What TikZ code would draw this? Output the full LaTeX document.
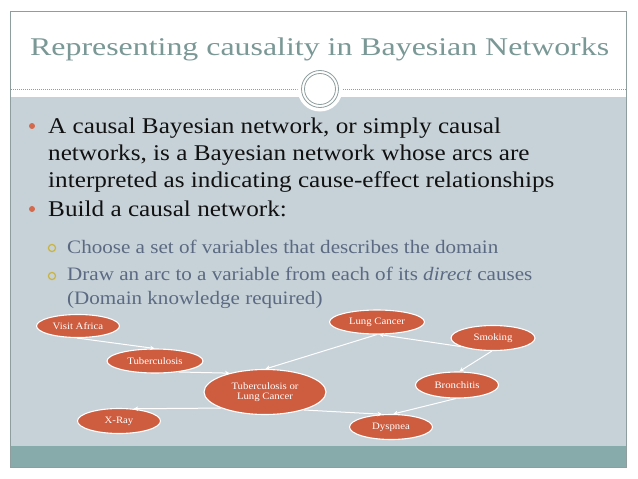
\documentclass[tikz,border=0pt]{standalone}
\usepackage{fontspec}
\setmainfont{Liberation Serif}[FakeStretch=1.12]
\newfontfamily\titlefont{Liberation Serif}[FakeStretch=1.25]
\newfontfamily\subfont{Liberation Serif}[FakeStretch=1.11]
\newfontfamily\nodefont{Liberation Serif}[FakeStretch=1.1]
\usetikzlibrary{shapes.geometric,arrows.meta}
\definecolor{framec}{HTML}{8E9E9E}
\definecolor{titlec}{HTML}{7A9896}
\definecolor{bodyc}{HTML}{C7D2D8}
\definecolor{bandc}{HTML}{87AAAA}
\definecolor{nodec}{HTML}{CE5C3E}
\definecolor{dotc}{HTML}{D4694B}
\definecolor{ringc}{HTML}{C9B440}
\definecolor{subc}{HTML}{5B6A82}
\definecolor{maintc}{HTML}{111111}
\tikzset{
  bnode/.style={ellipse, fill=nodec, draw=white, line width=1.1pt, inner sep=0pt,
    text=white, font=\nodefont\fontsize{9.8}{11}\selectfont, align=center},
  arc/.style={draw=white, line width=1pt, -{Stealth[length=4.5pt,width=4.5pt]}},
  mainline/.style={anchor=base west, inner sep=0pt, text=maintc, font=\fontsize{22.5}{27}\selectfont},
  subline/.style={anchor=base west, inner sep=0pt, text=subc, font=\subfont\fontsize{19}{23}\selectfont},
}
\begin{document}
\begin{tikzpicture}[x=1pt,y=-1pt]
\useasboundingbox (0,0) rectangle (638,479);
\fill[white] (0,0) rectangle (638,479);
% body and band
\fill[bodyc] (10.5,97) rectangle (626.5,446);
\fill[bandc] (10.5,446) rectangle (626.5,467.5);
% dotted rule
\draw[framec, line width=0.6pt, dash pattern=on 1pt off 1pt] (11,89) -- (626,89);
% circle ornament
\fill[white] (320,89) circle (22.5);
\draw[framec, line width=0.8pt] (320,89) circle (18.5);
\draw[framec, line width=0.8pt] (320,89) circle (15.5);
% frame
\draw[framec, line width=1pt] (10.5,11.5) rectangle (626.5,467.5);
% title
\node[anchor=base west, inner sep=0pt, text=titlec, font=\titlefont\fontsize{25.5}{30}\selectfont] (title) at (30,56) {Representing causality in Bayesian Networks};
% bullets
\fill[dotc] (32,126) circle (3);
\fill[dotc] (32,209) circle (3);
\node[mainline] (l1) at (48,133) {A causal Bayesian network, or simply causal};
\node[mainline] (l2) at (48,160) {networks, is a Bayesian network whose arcs are};
\node[mainline] (l3) at (48,187) {interpreted as indicating cause-effect relationships};
\node[mainline] (l4) at (48,216) {Build a causal network:};
\draw[ringc, line width=1.2pt] (52,248) circle (3.6);
\draw[ringc, line width=1.2pt] (52,276) circle (3.6);
\node[subline] (s1) at (67,253) {Choose a set of variables that describes the domain};
\node[subline] (s2) at (67,280) {Draw an arc to a variable from each of its \textit{direct} causes};
\node[subline] (s3) at (67,304) {(Domain knowledge required)};
% network nodes
\node[bnode, minimum width=83pt, minimum height=23pt] (va) at (78,326) {Visit Africa};
\node[bnode, minimum width=95pt, minimum height=24pt] (lc) at (377,322) {Lung Cancer};
\node[bnode, minimum width=84pt, minimum height=25pt] (sm) at (493,338) {Smoking};
\node[bnode, minimum width=96pt, minimum height=24pt] (tb) at (155,361) {Tuberculosis};
\node[bnode, minimum width=122pt, minimum height=45pt] (tlc) at (265,392) {Tuberculosis or\\[-1pt]Lung Cancer};
\node[bnode, minimum width=83pt, minimum height=26pt] (br) at (457,385) {Bronchitis};
\node[bnode, minimum width=83pt, minimum height=25pt] (xr) at (119,421) {X-Ray};
\node[bnode, minimum width=83pt, minimum height=25pt] (dy) at (391,427) {Dyspnea};
% arcs
\draw[arc] (va.-95) -- (tb.92);
\draw[arc] (tb.-25) -- (tlc.152);
\draw[arc] (lc.-90) -- (tlc.89);
\draw[arc] (sm.195) -- (lc.-80);
\draw[arc] (sm.-95) -- (br.80);
\draw[arc] (tlc.-160) -- (xr.40);
\draw[arc] (tlc.-25) -- (dy.125);
\draw[arc] (br.-95) -- (dy.80);
\end{tikzpicture}
\end{document}
